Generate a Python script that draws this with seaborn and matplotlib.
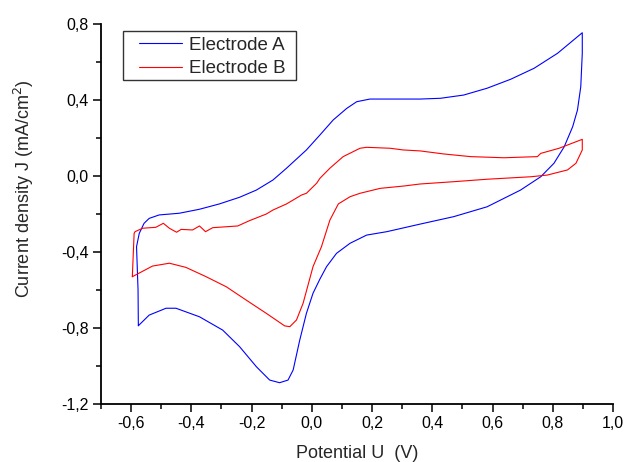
import matplotlib
matplotlib.use("Agg")
import matplotlib.pyplot as plt
import matplotlib.patches as mpatches
import seaborn as sns
import pandas as pd
from matplotlib.ticker import FixedLocator

# ---- data ----
series_names = ["Electrode A", "Electrode B"]

potential_a = [-0.576, -0.577, -0.582, -0.573, -0.557, -0.540, -0.507, -0.440, -0.373, -0.307,
               -0.240, -0.184, -0.129, -0.084, -0.018, 0.027, 0.071, 0.116, 0.149, 0.193,
               0.360, 0.427, 0.504, 0.582, 0.660, 0.738, 0.816, 0.898,
               0.898, 0.893, 0.882, 0.866, 0.838, 0.804, 0.760, 0.693, 0.582, 0.471,
               0.360, 0.249, 0.182, 0.127, 0.082, 0.049, 0.027, 0.004, -0.018, -0.040,
               -0.062, -0.079, -0.107, -0.140, -0.184, -0.240, -0.296, -0.373, -0.451, -0.484,
               -0.540, -0.576]
current_a = [-0.788, -0.600, -0.372, -0.302, -0.249, -0.223, -0.205, -0.196, -0.175, -0.147,
             -0.112, -0.074, -0.021, 0.041, 0.137, 0.216, 0.295, 0.356, 0.391, 0.405,
             0.405, 0.409, 0.426, 0.462, 0.509, 0.567, 0.646, 0.754,
             0.646, 0.470, 0.347, 0.259, 0.154, 0.067, -0.004, -0.074, -0.162, -0.214,
             -0.253, -0.293, -0.311, -0.354, -0.407, -0.477, -0.542, -0.617, -0.723, -0.863,
             -1.021, -1.074, -1.088, -1.074, -1.004, -0.898, -0.811, -0.741, -0.696, -0.696,
             -0.732, -0.788]

potential_b = [-0.596, -0.590, -0.587, -0.562, -0.518, -0.493, -0.473, -0.449, -0.434, -0.396,
               -0.373, -0.353, -0.329, -0.246, -0.207, -0.151, -0.129, -0.084, -0.034, -0.018,
               0.016, 0.027, 0.060, 0.104, 0.160, 0.182, 0.260, 0.304, 0.360, 0.438,
               0.527, 0.638, 0.749, 0.760, 0.821, 0.898,
               0.898, 0.877, 0.849, 0.782, 0.727, 0.582, 0.471, 0.360, 0.304, 0.227,
               0.160, 0.127, 0.088, 0.060, 0.032, 0.004, -0.029, -0.051, -0.073, -0.090,
               -0.151, -0.218, -0.284, -0.351, -0.418, -0.473, -0.529, -0.596]
current_b = [-0.530, -0.302, -0.293, -0.275, -0.270, -0.249, -0.275, -0.296, -0.281, -0.284,
             -0.263, -0.293, -0.272, -0.263, -0.235, -0.200, -0.179, -0.147, -0.100, -0.091,
             -0.038, -0.012, 0.041, 0.102, 0.146, 0.151, 0.146, 0.137, 0.132, 0.116,
             0.102, 0.096, 0.102, 0.119, 0.146, 0.193,
             0.137, 0.067, 0.032, 0.005, -0.004, -0.017, -0.030, -0.042, -0.053, -0.065,
             -0.091, -0.109, -0.147, -0.232, -0.372, -0.477, -0.670, -0.758, -0.793, -0.789,
             -0.723, -0.653, -0.583, -0.530, -0.481, -0.459, -0.474, -0.530]

x_major = [-0.6, -0.4, -0.2, 0.0, 0.2, 0.4, 0.6, 0.8, 1.0]
x_labels = ["-0,6", "-0,4", "-0,2", "0,0", "0,2", "0,4", "0,6", "0,8", "1,0"]
x_minor = [-0.7, -0.5, -0.3, -0.1, 0.1, 0.3, 0.5, 0.7, 0.9]
y_major = [-1.2, -0.8, -0.4, 0.0, 0.4, 0.8]
y_labels = ["-1,2", "-0,8", "-0,4", "0,0", "0,4", "0,8"]
y_minor = [-1.0, -0.6, -0.2, 0.2, 0.6]

# ---- build table ----
df = pd.concat([
    pd.DataFrame({"U": potential_a, "J": current_a, "Electrode": series_names[0]}),
    pd.DataFrame({"U": potential_b, "J": current_b, "Electrode": series_names[1]}),
], ignore_index=True)

sns.set_style("ticks")
plt.rcParams["font.family"] = ["Liberation Sans", "DejaVu Sans"]

W, H = 624, 462
fig = plt.figure(figsize=(W / 100, H / 100), dpi=100)
ax = fig.add_axes([101 / W, 1 - 404 / H, 512 / W, 380 / H])

sns.lineplot(data=df, x="U", y="J", hue="Electrode", sort=False, estimator=None,
             palette={"Electrode A": "#0000FF", "Electrode B": "#FF0000"},
             linewidth=0.8, ax=ax)

ax.set_xlim(-0.7, 1.0)
ax.set_ylim(-1.2, 0.8)
ax.xaxis.set_major_locator(FixedLocator(x_major))
ax.set_xticklabels(x_labels)
ax.xaxis.set_minor_locator(FixedLocator(x_minor))
ax.yaxis.set_major_locator(FixedLocator(y_major))
ax.set_yticklabels(y_labels)
ax.yaxis.set_minor_locator(FixedLocator(y_minor))

ax.tick_params(axis="both", which="major", direction="out", length=6, width=1.1,
               labelsize=11.5, color="black", labelcolor="black", pad=3)
ax.tick_params(axis="both", which="minor", direction="out", length=3.5, width=1.1, color="black")

for side in ["top", "right"]:
    ax.spines[side].set_visible(False)
for side in ["left", "bottom"]:
    ax.spines[side].set_color("black")
    ax.spines[side].set_linewidth(1.3)

ax.set_xlabel("Potential U  (V)", fontsize=13)
ax.set_ylabel("Current density J (mA/cm$^{2}$)", fontsize=13)
ax.xaxis.set_label_coords((357.5 - 101) / 512, (404 - 453) / 380)
ax.xaxis.label.set_va("center")
ax.yaxis.set_label_coords((24 - 101) / 512, (404 - 189) / 380)
ax.yaxis.label.set_va("center")
ax.yaxis.label.set_ha("center")

leg = ax.legend(loc="upper left", bbox_to_anchor=((139 - 101) / 512, (404 - 36.5) / 380),
                borderaxespad=0, frameon=False, fontsize=13.5, handlelength=2.3,
                handletextpad=0.35, borderpad=0, labelspacing=0.34, title=None)
for line in leg.get_lines():
    line.set_linewidth(0.8)

fig.add_artist(mpatches.Rectangle((123 / W, 1 - 80 / H), 173 / W, 49 / H,
                                  transform=fig.transFigure, fill=False,
                                  edgecolor="#333333", linewidth=1.0))

fig.savefig("out.png", dpi=100)
